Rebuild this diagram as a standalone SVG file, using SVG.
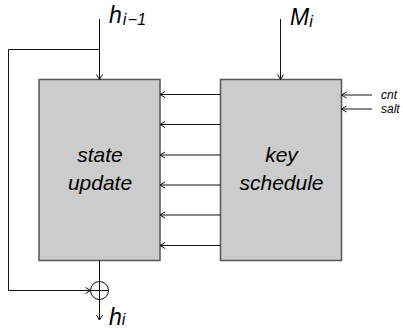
<svg xmlns="http://www.w3.org/2000/svg" width="403" height="329" viewBox="0 0 403 329">
  <defs>
    <style>
      .box { fill: #cccccc; stroke: #555555; stroke-width: 1.5; }
      .wire { fill: none; stroke: #111111; stroke-width: 1; }
      .arr { fill: none; stroke: #111111; stroke-width: 1; marker-end: url(#head); }
      .lbl { font-family: "Liberation Sans", Arial, sans-serif; font-style: italic; fill: #000000; }
      .big { font-size: 21px; }
      .sym { font-size: 23px; }
      .sub { font-size: 16px; }
      .small { font-size: 12px; }
    </style>
    <marker id="head" markerUnits="userSpaceOnUse" markerWidth="8" markerHeight="8" viewBox="0 0 8 8" refX="6" refY="4" orient="auto">
      <path d="M1,1 L6,4 L1,7" fill="none" stroke="#111111" stroke-width="1"/>
    </marker>
  </defs>

  <!-- state update block -->
  <g id="state-update">
    <rect class="box" x="39" y="79.5" width="121" height="181"/>
    <text class="lbl big" x="100" y="162" text-anchor="middle">state</text>
    <text class="lbl big" x="100" y="190" text-anchor="middle">update</text>
  </g>

  <!-- key schedule block -->
  <g id="key-schedule">
    <rect class="box" x="220.5" y="79.5" width="121" height="181"/>
    <text class="lbl big" x="281.5" y="162" text-anchor="middle">key</text>
    <text class="lbl big" x="281.5" y="190" text-anchor="middle">schedule</text>
  </g>

  <!-- feed-forward xor -->
  <g id="xor">
    <circle cx="99.5" cy="290.5" r="9" fill="none" stroke="#111111" stroke-width="1"/>
    <line class="wire" x1="90.5" y1="290.5" x2="108.5" y2="290.5"/>
    <line class="wire" x1="99.5" y1="281.5" x2="99.5" y2="299.5"/>
  </g>

  <!-- labels -->
  <g id="h-prev">
    <text class="lbl sym" x="109" y="23">h<tspan class="sub" dy="2" dx="1">i</tspan><tspan class="sub" dx="1.5">−1</tspan></text>
  </g>
  <g id="m-i">
    <text class="lbl sym" x="290" y="25">M<tspan class="sub" dy="2">i</tspan></text>
  </g>
  <g id="h-out">
    <text class="lbl sym" x="109" y="325">h<tspan class="sub">i</tspan></text>
  </g>
  <g id="cnt">
    <text class="lbl small" x="381" y="99">cnt</text>
  </g>
  <g id="salt">
    <text class="lbl small" x="381" y="112.5">salt</text>
  </g>

  <!-- connectors -->
  <g id="connectors">
    <path class="arr" d="M99.5,19 V79.5"/>
    <path class="arr" d="M280.5,19 V79.5"/>
    <path class="arr" d="M99.5,49.5 H8.5 V290.5 H90.5"/>
    <path class="wire" d="M99.5,260.5 V281.5"/>
    <path class="arr" d="M99.5,299.5 V320"/>
    <path class="arr" d="M220.5,94.5 H160"/>
    <path class="arr" d="M220.5,124.5 H160"/>
    <path class="arr" d="M220.5,155 H160"/>
    <path class="arr" d="M220.5,185 H160"/>
    <path class="arr" d="M220.5,215 H160"/>
    <path class="arr" d="M220.5,245.5 H160"/>
    <path class="arr" d="M372,95 H341.5"/>
    <path class="arr" d="M372,109 H341.5"/>
  </g>
</svg>
